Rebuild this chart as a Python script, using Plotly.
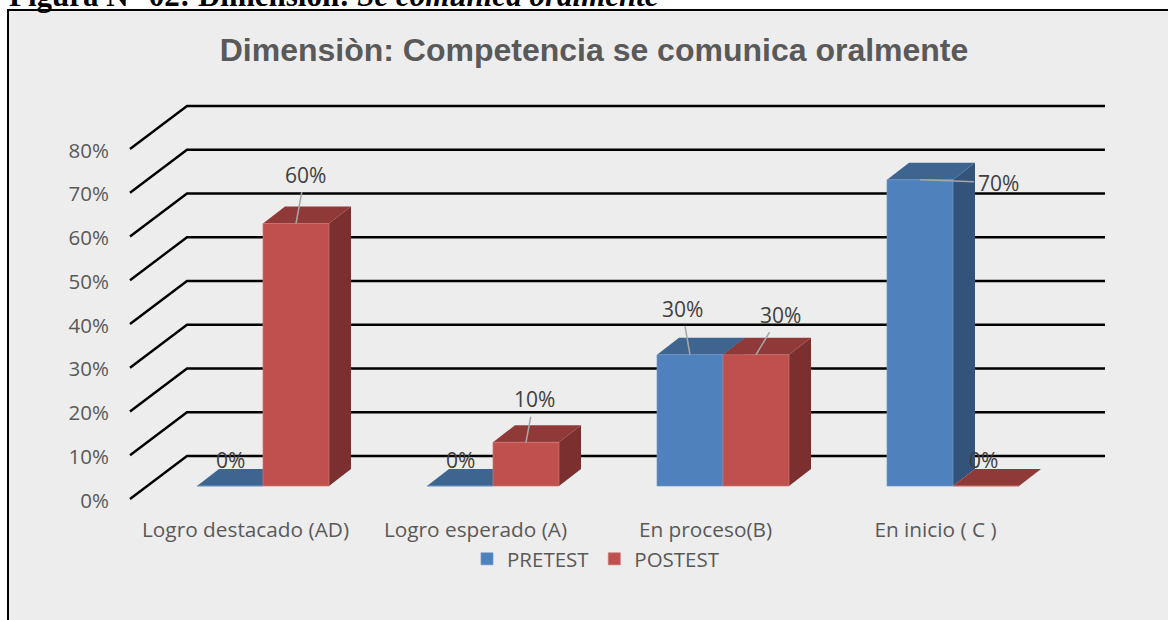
import plotly.graph_objects as go

categories = ["Logro destacado (AD)", "Logro esperado (A)", "En proceso(B)", "En inicio ( C )"]
pretest = [0, 0, 30, 70]
postest = [60, 10, 30, 0]
y_ticks = [0, 10, 20, 30, 40, 50, 60, 70, 80]

# Pixel calibration of the axes (layout only)
W, H = 1168, 620
PLOT_L, PLOT_R, PLOT_T, PLOT_B = 110, 1140, 90, 515
CAT_PX, CAT0_PX = 230.0, 263.0
PCT_PX, BASE_PX = 4.375, 486.0
BAR_W = 66 / CAT_PX
DX, DY = 22 / CAT_PX, 17 / PCT_PX          # bar depth
WALL_DX, WALL_DY = 57 / CAT_PX, 43 / PCT_PX  # wall depth
WALL_X0 = (130 - CAT0_PX) / CAT_PX
WALL_XEND = (1105 - CAT0_PX) / CAT_PX
FLOOR_FRONT = (BASE_PX - 499) / PCT_PX
TICK_SHIFT = -17.5 / CAT_PX
YTICK_SHIFT = -1.5 / PCT_PX

BLUE = dict(front="#4F81BD", side="#33537A", top="#3E6490", edge="#7097C8")
RED = dict(front="#C0504D", side="#7B2F2E", top="#8F3A39", edge="#CC7270")
INK = "#595959"
LABEL = "#404040"
FONT = "Open Sans"

fig = go.Figure()

# Walls / gridlines
grid_x, grid_y = [], []
for v in y_ticks:
    front = v + FLOOR_FRONT
    back = front + WALL_DY
    grid_x += [WALL_X0, WALL_X0 + WALL_DX, WALL_XEND, None]
    grid_y += [front, back, back, None]
fig.add_trace(go.Scatter(x=grid_x, y=grid_y, mode="lines", showlegend=False, hoverinfo="skip",
                         line=dict(color="#000000", width=2.4), zorder=0))


def add_series(name, values, colors, shift, z):
    xc = [i + shift * BAR_W for i in range(len(values))]
    for x, v in zip(xc, values):
        x0, x1 = x - BAR_W / 2, x + BAR_W / 2
        if v > 0:
            fig.add_trace(go.Scatter(
                x=[x1, x1 + DX, x1 + DX, x1, x1], y=[0, DY, v + DY, v, 0],
                mode="lines", fill="toself", fillcolor=colors["side"],
                line=dict(width=0), showlegend=False, hoverinfo="skip", zorder=z))
        fig.add_trace(go.Scatter(
            x=[x0, x1, x1 + DX, x0 + DX, x0], y=[v, v, v + DY, v + DY, v],
            mode="lines", fill="toself", fillcolor=colors["top"],
            line=dict(width=0), showlegend=False, hoverinfo="skip", zorder=z))
    fig.add_trace(go.Bar(x=xc, y=values, width=BAR_W, name=name, zorder=z + 1,
                         marker=dict(color=colors["front"], line=dict(color=colors["edge"], width=0.7)),
                         hoverinfo="skip"))


add_series("PRETEST", pretest, BLUE, -0.5, 1)
add_series("POSTEST", postest, RED, 0.5, 3)

# Data labels: px offset from the bar's top centre; leader lines for non-zero values
pre_off = [(0, -26), (0, -26), (-8, -46), (78, 3)]
post_off = [(9, -49), (8, -43), (24, -40), (-3, -26)]
for vals, off, shift in ((pretest, pre_off, -0.5), (postest, post_off, 0.5)):
    for i, (v, (ax, ay)) in enumerate(zip(vals, off)):
        common = dict(x=i + shift * BAR_W, y=v, text=f"{v}%",
                      font=dict(family=FONT, size=21, color=LABEL))
        if v > 0:
            fig.add_annotation(ax=ax, ay=ay, axref="pixel", ayref="pixel", showarrow=True, arrowhead=0,
                               arrowwidth=1.5, arrowcolor="#A6A6A6", standoff=0, borderpad=3, **common)
        else:
            fig.add_annotation(showarrow=False, xshift=ax, yshift=-ay, **common)

# Outer panel
fig.add_shape(type="rect", xref="paper", yref="paper", layer="below",
              x0=(8 - PLOT_L) / (PLOT_R - PLOT_L), x1=(W + 8 - PLOT_L) / (PLOT_R - PLOT_L),
              y0=(PLOT_B - H - 8) / (PLOT_B - PLOT_T), y1=(PLOT_B - 10) / (PLOT_B - PLOT_T),
              fillcolor="#EDEDED", line=dict(color="#000000", width=2))

# Heading above the panel, cut by the top of the page as in the reference
fig.add_annotation(xref="paper", yref="paper", x=(8 - PLOT_L) / (PLOT_R - PLOT_L),
                   y=(PLOT_B - 14) / (PLOT_B - PLOT_T), xanchor="left", yanchor="bottom", showarrow=False, borderpad=0,
                   text="<b>Figura N° 02: Dimensión: </b><b><i>Se comunica oralmente</i></b>",
                   font=dict(family="Liberation Serif", size=31, color="#000000"))

fig.update_layout(
    width=W, height=H, paper_bgcolor="#FFFFFF", plot_bgcolor="rgba(0,0,0,0)",
    margin=dict(l=PLOT_L, r=W - PLOT_R, t=PLOT_T, b=H - PLOT_B, pad=0),
    barmode="overlay",
    title=dict(text="<b>Dimensiòn: Competencia se comunica oralmente</b>", x=594 / W, xanchor="center",
               y=1 - 50 / H, yanchor="middle", font=dict(family="Liberation Sans", size=32, color=INK)),
    xaxis=dict(range=[(PLOT_L - CAT0_PX) / CAT_PX, (PLOT_R - CAT0_PX) / CAT_PX], showgrid=False, zeroline=False,
               showline=False, tickmode="array", tickvals=[i + TICK_SHIFT for i in range(len(categories))],
               ticktext=categories, ticks="",
               tickfont=dict(family=FONT, size=20.8, color=INK)),
    yaxis=dict(range=[(BASE_PX - PLOT_B) / PCT_PX, (BASE_PX - PLOT_T) / PCT_PX], showgrid=False, zeroline=False,
               showline=False, tickmode="array", tickvals=[v + FLOOR_FRONT + YTICK_SHIFT for v in y_ticks],
               ticktext=[f"{v}%" for v in y_ticks], ticks="",
               tickfont=dict(family=FONT, size=20.5, color=INK)),
    legend=dict(orientation="h", xref="paper", yref="paper", x=(467 - PLOT_L) / (PLOT_R - PLOT_L),
                y=(PLOT_B - 539) / (PLOT_B - PLOT_T), xanchor="left", yanchor="top", bgcolor="rgba(0,0,0,0)",
                font=dict(family=FONT, size=20.5, color=INK), itemwidth=30),
)

fig.write_html("out.html", config=dict(displayModeBar=False), post_script="document.body.style.margin='0';")
